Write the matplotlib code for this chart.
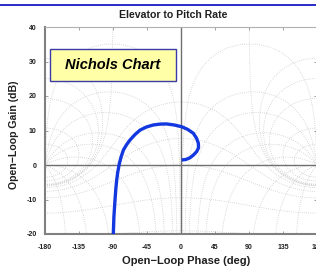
import numpy as np
import matplotlib
matplotlib.use("Agg")
import matplotlib.pyplot as plt

# ---- data ----
phase_deg = [-89.6, -88.8, -87.3, -86.3, -85.1, -83.8, -82.0, -79.5, -76.2, -72.0,
             -67.5, -61.0, -54.3, -46.0, -36.7, -28.0, -18.9, -9.0, 0.9, 9.0,
             16.3, 20.5, 23.0, 23.2, 20.8, 16.5, 11.9, 6.5, 0.9]
gain_db = [-20.0, -15.0, -10.0, -7.0, -4.35, -2.2, 0.0, 2.2, 4.35, 5.9,
           7.25, 8.8, 10.1, 11.0, 11.6, 11.85, 11.9, 11.6, 11.1, 10.3,
           9.2, 7.8, 6.3, 5.0, 3.9, 2.9, 2.1, 1.6, 1.45]
x_ticks = [-180, -135, -90, -45, 0, 45, 90, 135, 180]
y_ticks = [-20, -10, 0, 10, 20, 30, 40]
m_levels_db = [6, 3, 1, 0.5, 0.25, -1, -3, -6, -12, -20, -40]
n_levels_deg = [1, 5, 10, 20, 30, 50, 90, 120, 150, 180]

W, H = 316, 270
fig = plt.figure(figsize=(W / 100, H / 100), dpi=100)
fig.patch.set_facecolor("white")
FONT = ["Liberation Sans", "DejaVu Sans"]

# top banner line
fig.add_artist(plt.Line2D([0, 1], [1 - 4.5 / H, 1 - 4.5 / H], color="#2a2ac8", lw=1.4,
                          transform=fig.transFigure))

ax = fig.add_axes([45 / W, 1 - 234 / H, 272 / W, 207 / H])
ax.set_xlim(-180, 180)
ax.set_ylim(-20, 40)

grid_kw = dict(color="#c2c2c2", lw=0.55, ls=(0, (1, 1.8)), zorder=1)


def wrap_phase(g):
    p = np.degrees(np.angle(g))
    p = np.where(p > 0, p - 360, p)
    return p


def draw_curve(p, d):
    jumps = np.where(np.abs(np.diff(p)) > 90)[0]
    segs = np.split(np.arange(len(p)), jumps + 1)
    for s in segs:
        if len(s) < 2:
            continue
        for shift in (0, 360):
            ax.plot(p[s] + shift, d[s], **grid_kw)


# constant closed-loop magnitude contours
psi = np.linspace(-np.pi + 1e-4, np.pi - 1e-4, 3000)
for mdb in m_levels_db:
    M = 10 ** (mdb / 20)
    T = M * np.exp(1j * psi)
    G = T / (1 - T)
    draw_curve(wrap_phase(G), 20 * np.log10(np.abs(G)))

# 0 dB closed-loop contour
for rng in (np.linspace(-np.pi + 1e-4, -1e-3, 1500), np.linspace(1e-3, np.pi - 1e-4, 1500)):
    T = np.exp(1j * rng)
    G = T / (1 - T)
    draw_curve(wrap_phase(G), 20 * np.log10(np.abs(G)))

# constant closed-loop phase contours
m = np.logspace(-4, 4, 3000)
for nd in n_levels_deg:
    for sgn in (-1, 1):
        if nd == 180 and sgn == 1:
            continue
        T = m * np.exp(1j * np.radians(sgn * nd))
        G = T / (1 - T)
        draw_curve(wrap_phase(G), 20 * np.log10(np.abs(G)))

# axis lines
ax.axhline(0, color="#707070", lw=1.0, zorder=2)
ax.axvline(0, color="#707070", lw=1.0, zorder=2)

ax.plot(phase_deg, gain_db, color="#1438e0", lw=2.4, zorder=4, solid_capstyle="butt")

ax.set_xticks(x_ticks)
ax.set_yticks(y_ticks)
ax.set_xticklabels([str(v) for v in x_ticks], fontsize=5, fontweight="bold", family=FONT)
ax.set_yticklabels([str(v) for v in y_ticks], fontsize=5, fontweight="bold", family=FONT)
ax.tick_params(direction="in", length=2.5, width=0.6, color="#909090", top=True, right=True,
               labelcolor="#202020")
ax.tick_params(axis="x", pad=7)
ax.tick_params(axis="y", pad=6)
for side in ("left", "bottom"):
    ax.spines[side].set_color("#808080")
    ax.spines[side].set_linewidth(1.5)
for side in ("top", "right"):
    ax.spines[side].set_color("#b0b0b0")
    ax.spines[side].set_linewidth(0.8)

fig.text(173.5 / W, 1 - 15 / H, "Elevator to Pitch Rate", ha="center", va="center",
         fontsize=7.6, fontweight="bold", family=FONT, color="#202020")
fig.text(186 / W, 1 - 261.5 / H, "Open\u2212Loop Phase (deg)", ha="center", va="center",
         fontsize=8, fontweight="bold", family=FONT, color="#202020")
fig.text(14 / W, 1 - 135 / H, "Open\u2212Loop Gain (dB)", ha="center", va="center",
         rotation=90, fontsize=7.6, fontweight="bold", family=FONT, color="#202020")

# label box
fig.add_artist(plt.Rectangle((50 / W, 1 - 81 / H), 125.5 / W, 32 / H, transform=fig.transFigure,
                             facecolor="#ffffa8", edgecolor="#3a3aa8", lw=1.0, zorder=5))
fig.text(113 / W, 1 - 65 / H, "Nichols Chart", ha="center", va="center", fontsize=10.5,
         fontweight="bold", fontstyle="italic", family=FONT, color="black", zorder=6)

fig.savefig("out.png", dpi=100, facecolor="white")
